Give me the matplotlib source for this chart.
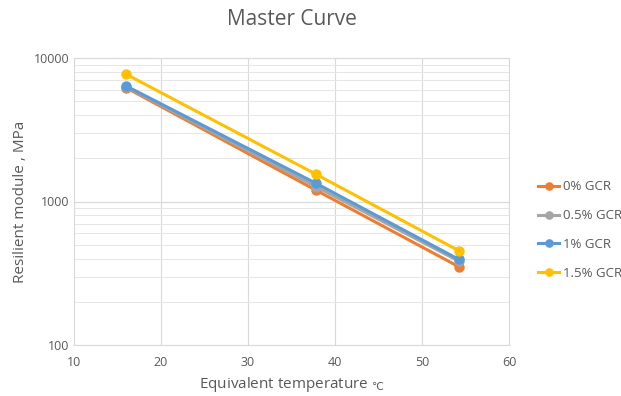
import matplotlib
matplotlib.use("Agg")
import matplotlib.pyplot as plt
from matplotlib.ticker import NullFormatter

plt.rcParams['font.family'] = ['Open Sans', 'DejaVu Sans']

temps = [16, 37.8, 54.2]
series_names = ["0% GCR", "0.5% GCR", "1% GCR", "1.5% GCR"]
mod_0 = [6200, 1200, 352]
mod_05 = [6300, 1270, 385]
mod_1 = [6380, 1340, 396]
mod_15 = [7700, 1550, 455]
colors = ["#ed7d31", "#a5a5a5", "#5b9bd5", "#ffc000"]

fig = plt.figure(figsize=(6.21, 3.96), dpi=100)
ax = fig.add_axes([74/621, 1-345/396, (509-74)/621, (345-58)/396])

for name, vals, c in zip(series_names, [mod_0, mod_05, mod_1, mod_15], colors):
    ax.plot(temps, vals, color=c, lw=2.2, marker='o', ms=6.5, label=name)

ax.set_yscale('log')
ax.set_xlim(10, 60)
ax.set_ylim(100, 10000)
ax.set_xticks([10, 20, 30, 40, 50, 60])
ax.set_yticks([100, 1000, 10000])
ax.set_yticklabels(["100", "1000", "10000"])
ax.yaxis.set_minor_formatter(NullFormatter())
ax.grid(True, which='major', color='#d9d9d9', lw=0.8)
ax.grid(True, which='minor', axis='y', color='#e6e6e6', lw=0.7)
ax.set_axisbelow(True)
for s in ax.spines.values():
    s.set_color('#d9d9d9')
ax.tick_params(which='both', length=0, colors='#595959', labelsize=9)
ax.tick_params(axis='x', pad=8)

ax.set_title("Master Curve", fontsize=15, color='#595959', pad=24)
ax.set_xlabel("Equivalent temperature $_{℃}$", fontsize=11, color='#595959')
ax.set_ylabel("Resilient module , MPa", fontsize=11, color='#595959')

ax.legend(loc='center left', bbox_to_anchor=(1.04, 0.40), frameon=False,
          fontsize=9.5, labelcolor='#595959', handlelength=1.6, handletextpad=0.3,
          markerscale=0.8, labelspacing=1.2)

fig.savefig("out.png", dpi=100)
